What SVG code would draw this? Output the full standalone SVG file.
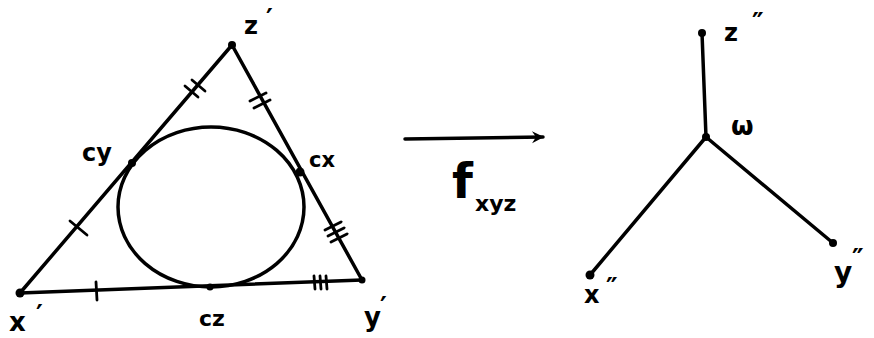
<svg xmlns="http://www.w3.org/2000/svg" width="874" height="338" viewBox="0 0 874 338">
<defs>
<style>
.ln{stroke:#000;stroke-width:3.5;fill:none;stroke-linecap:round;stroke-linejoin:round}
.tk{stroke:#000;stroke-width:2.8;fill:none;stroke-linecap:round}
.dot{fill:#000}
.lb{font-family:"DejaVu Sans","Liberation Sans",sans-serif;font-weight:bold;fill:#000}
.pr{font-family:"DejaVu Sans","Liberation Sans",sans-serif;font-weight:bold;fill:#000;font-size:26px}
</style>
<marker id="ah" viewBox="0 0 14 14" refX="12" refY="7" markerWidth="14" markerHeight="14" markerUnits="userSpaceOnUse" orient="auto">
<path d="M1,1 L13,7 L1,13 L5,7 Z" fill="#000"/>
</marker>
</defs>
<rect width="874" height="338" fill="#fff"/>

<g id="connectors">
<line class="ln" x1="20" y1="293" x2="232" y2="45"/>
<line class="ln" x1="232" y1="45" x2="362" y2="280"/>
<line class="ln" x1="20" y1="293" x2="362" y2="280"/>
<line class="ln" x1="405" y1="139" x2="543" y2="137" marker-end="url(#ah)"/>
<line class="ln" x1="702" y1="33" x2="706" y2="137"/>
<line class="ln" x1="706" y1="137" x2="590" y2="275"/>
<line class="ln" x1="706" y1="137" x2="833" y2="243"/>
</g>

<g id="incircle">
<ellipse class="ln" cx="211" cy="207" rx="93" ry="80"/>
</g>

<g id="ticks">
<line class="tk" x1="70" y1="221" x2="87" y2="235"/>
<line class="tk" x1="185" y1="86" x2="198" y2="97"/>
<line class="tk" x1="192" y1="80" x2="205" y2="91"/>
<line class="tk" x1="250" y1="101" x2="266" y2="93"/>
<line class="tk" x1="254" y1="108" x2="270" y2="100"/>
<line class="tk" x1="325" y1="230" x2="341" y2="222"/>
<line class="tk" x1="328" y1="236" x2="344" y2="228"/>
<line class="tk" x1="331" y1="242" x2="347" y2="234"/>
<line class="tk" x1="96" y1="282" x2="97" y2="300"/>
<line class="tk" x1="314" y1="276" x2="315" y2="289"/>
<line class="tk" x1="320" y1="276" x2="321" y2="289"/>
<line class="tk" x1="326" y1="276" x2="327" y2="289"/>
</g>

<g id="node-z1"><circle class="dot" cx="232" cy="45" r="4"/><text class="lb" x="244" y="34" font-size="24">z</text><text class="pr" x="266" y="28">′</text></g>
<g id="node-x1"><circle class="dot" cx="20" cy="293" r="4.5"/><text class="lb" x="9" y="331" font-size="26">x</text><text class="pr" x="36" y="324">′</text></g>
<g id="node-y1"><circle class="dot" cx="362" cy="280" r="3.5"/><text class="lb" x="364" y="326" font-size="26">y</text><text class="pr" x="380" y="316">′</text></g>
<g id="node-cy"><circle class="dot" cx="132" cy="163" r="4"/><text class="lb" x="82" y="161" font-size="24">cy</text></g>
<g id="node-cx"><circle class="dot" cx="300" cy="172" r="4.5"/><text class="lb" x="309" y="167" font-size="21">cx</text></g>
<g id="node-cz"><circle class="dot" cx="210" cy="287" r="3.5"/><text class="lb" x="199" y="326" font-size="22">cz</text></g>

<g id="label-f"><text class="lb" x="452" y="198" font-size="48">f</text><text class="lb" x="475" y="211" font-size="22">xyz</text></g>

<g id="node-z2"><circle class="dot" cx="702" cy="33" r="4"/><text class="lb" x="724" y="41" font-size="24">z</text><text class="pr" x="752" y="32">″</text></g>
<g id="node-w"><circle class="dot" cx="706" cy="137" r="4"/><text class="lb" x="731" y="135" font-size="26">ω</text></g>
<g id="node-x2"><circle class="dot" cx="590" cy="275" r="4.5"/><text class="lb" x="584" y="303" font-size="24">x</text><text class="pr" x="606" y="297">″</text></g>
<g id="node-y2"><circle class="dot" cx="833" cy="243" r="4"/><text class="lb" x="834" y="282" font-size="28">y</text><text class="pr" x="852" y="268">″</text></g>
</svg>
